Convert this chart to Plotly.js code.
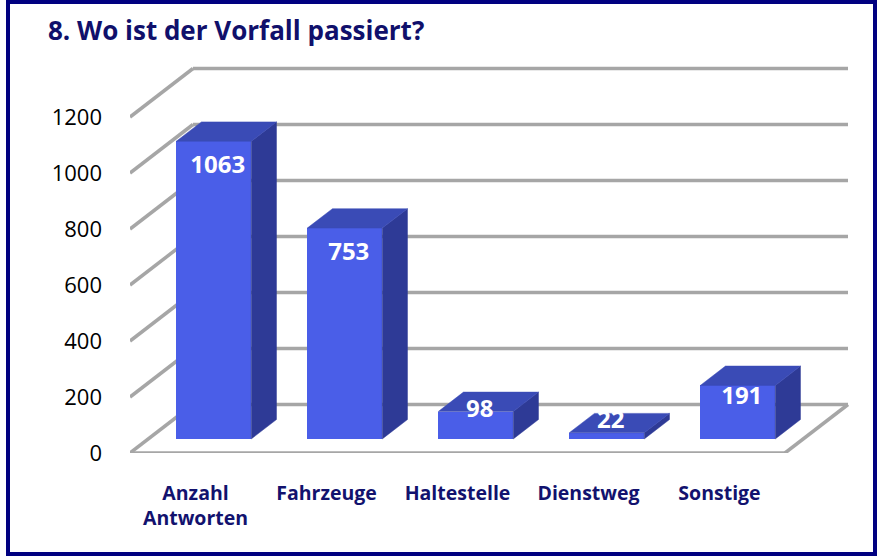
<!DOCTYPE html>
<html>
<head>
<meta charset="utf-8">
<script src="https://cdn.plot.ly/plotly-3.0.1.min.js"></script>
<style>
  html, body { margin: 0; padding: 0; background: #ffffff; }
  #wrap { position: relative; width: 879px; height: 556px; }
  #chart { width: 879px; height: 556px; }
  #frame { position: absolute; left: 6px; top: 0px; width: 871px; height: 556px;
           box-sizing: border-box; border: 4px solid #000080; pointer-events: none; }
</style>
</head>
<body>
<div id="wrap">
  <div id="chart"></div>
  <div id="frame"></div>
</div>
<script>
// ---- data ----
const categories = ['Anzahl<br>Antworten', 'Fahrzeuge', 'Haltestelle', 'Dienstweg', 'Sonstige'];
const values = [1063, 753, 98, 22, 191];
const yTickValues = [0, 200, 400, 600, 800, 1000, 1200];
const yTickLabels = ['0', '200', '400', '600', '800', '1000', '1200'];

// ---- geometry / style ----
const W = 879, H = 556;
const margin = { l: 130, r: 19, t: 60, b: 103 };
const plotW = W - margin.l - margin.r, plotH = H - margin.t - margin.b;
const pxPerCat = 131, pxPerUnit = 0.28;
const xRange = [-0.5, -0.5 + plotW / pxPerCat];
const yRange = [0, plotH / pxPerUnit];
const DX = 63 / pxPerCat;       // full depth in category units
const DY = 48.5 / pxPerUnit;    // full depth in value units
const f0 = 0.29, f1 = 0.69;     // bar front/back depth fractions
const barW = 75 / pxPerCat;

const colFront = '#4a5ee8', colTop = '#3a4bb6', colSide = '#2e3a96';
const gridCol = '#a6a6a6';

const n = categories.length;
const xFirst = -0.5, xLast = n - 0.5;

// gridlines as shapes (left wall diagonal + back wall horizontal)
const shapes = [];
function line(x0, y0, x1, y1) {
  shapes.push({ type: 'line', xref: 'x', yref: 'y', x0: x0, y0: y0, x1: x1, y1: y1,
    layer: 'below', line: { color: gridCol, width: 3.5 } });
}
yTickValues.forEach(function (t) {
  line(xFirst, t, xFirst + DX, t + DY);
  line(xFirst + DX, t + DY, xLast + DX, t + DY);
});
// floor outline
line(xFirst, 0, xLast, 0);
line(xLast, 0, xLast + DX, DY);

// bars
const baseY = f0 * DY;
const frontX = values.map(function (v, i) { return i + f0 * DX; });
const dDX = (f1 - f0) * DX, dDY = (f1 - f0) * DY;

const topX = [], topY = [], sideX = [], sideY = [];
values.forEach(function (v, i) {
  const xl = frontX[i] - barW / 2, xr = frontX[i] + barW / 2;
  const yb = baseY, yt = baseY + v;
  topX.push(xl, xr, xr + dDX, xl + dDX, xl, null);
  topY.push(yt, yt, yt + dDY, yt + dDY, yt, null);
  sideX.push(xr, xr + dDX, xr + dDX, xr, xr, null);
  sideY.push(yb, yb + dDY, yt + dDY, yt, yb, null);
});

// label positions derived from values
const labelX = frontX.map(function (x) { return x + 4 / pxPerCat; });
const labelY = values.map(function (v) {
  const h = v * pxPerUnit;
  const d = Math.min(h / 2 - 14, 26);
  return baseY + v - d / pxPerUnit;
});

const traces = [
  { type: 'bar', x: frontX, y: values, base: values.map(function () { return baseY; }),
    width: barW, marker: { color: colFront, line: { width: 0 } },
    hoverinfo: 'skip', showlegend: false },
  { type: 'scatter', mode: 'lines', x: sideX, y: sideY, fill: 'toself', fillcolor: colSide,
    line: { color: colSide, width: 0.5 }, hoverinfo: 'skip', showlegend: false },
  { type: 'scatter', mode: 'lines', x: topX, y: topY, fill: 'toself', fillcolor: colTop,
    line: { color: colTop, width: 0.5 }, hoverinfo: 'skip', showlegend: false },
  { type: 'scatter', mode: 'text', x: labelX, y: labelY, text: values.map(String),
    textposition: 'middle center', cliponaxis: false,
    textfont: { family: 'Open Sans, sans-serif', size: 24, color: '#ffffff', weight: 'bold' },
    hoverinfo: 'skip', showlegend: false }
];

const layout = {
  width: W, height: H,
  margin: margin,
  paper_bgcolor: '#ffffff', plot_bgcolor: 'rgba(0,0,0,0)',
  showlegend: false,
  title: {
    text: '<b>8. Wo ist der Vorfall passiert?</b>',
    x: 48 / W, xref: 'container', xanchor: 'left',
    y: 1 - 31 / H, yref: 'container', yanchor: 'middle',
    font: { family: 'Open Sans, sans-serif', size: 26, color: '#10106b' }
  },
  xaxis: {
    range: xRange, type: 'linear', showgrid: false, zeroline: false, showline: false,
    tickmode: 'array', tickvals: categories.map(function (c, i) { return i; }), ticktext: categories,
    ticks: '', ticklabelstandoff: 26,
    tickfont: { family: 'Open Sans, sans-serif', size: 19.5, color: '#12126e', weight: 'bold' },
    fixedrange: true
  },
  yaxis: {
    range: yRange, showgrid: false, zeroline: false, showline: false,
    tickmode: 'array', tickvals: yTickValues, ticktext: yTickLabels,
    ticks: '', ticklabelstandoff: 27,
    tickfont: { family: 'Open Sans, sans-serif', size: 22, color: '#000000' },
    fixedrange: true
  },
  shapes: shapes,
  bargap: 0
};

Plotly.newPlot('chart', traces, layout, { staticPlot: true, displayModeBar: false });
</script>
</body>
</html>
